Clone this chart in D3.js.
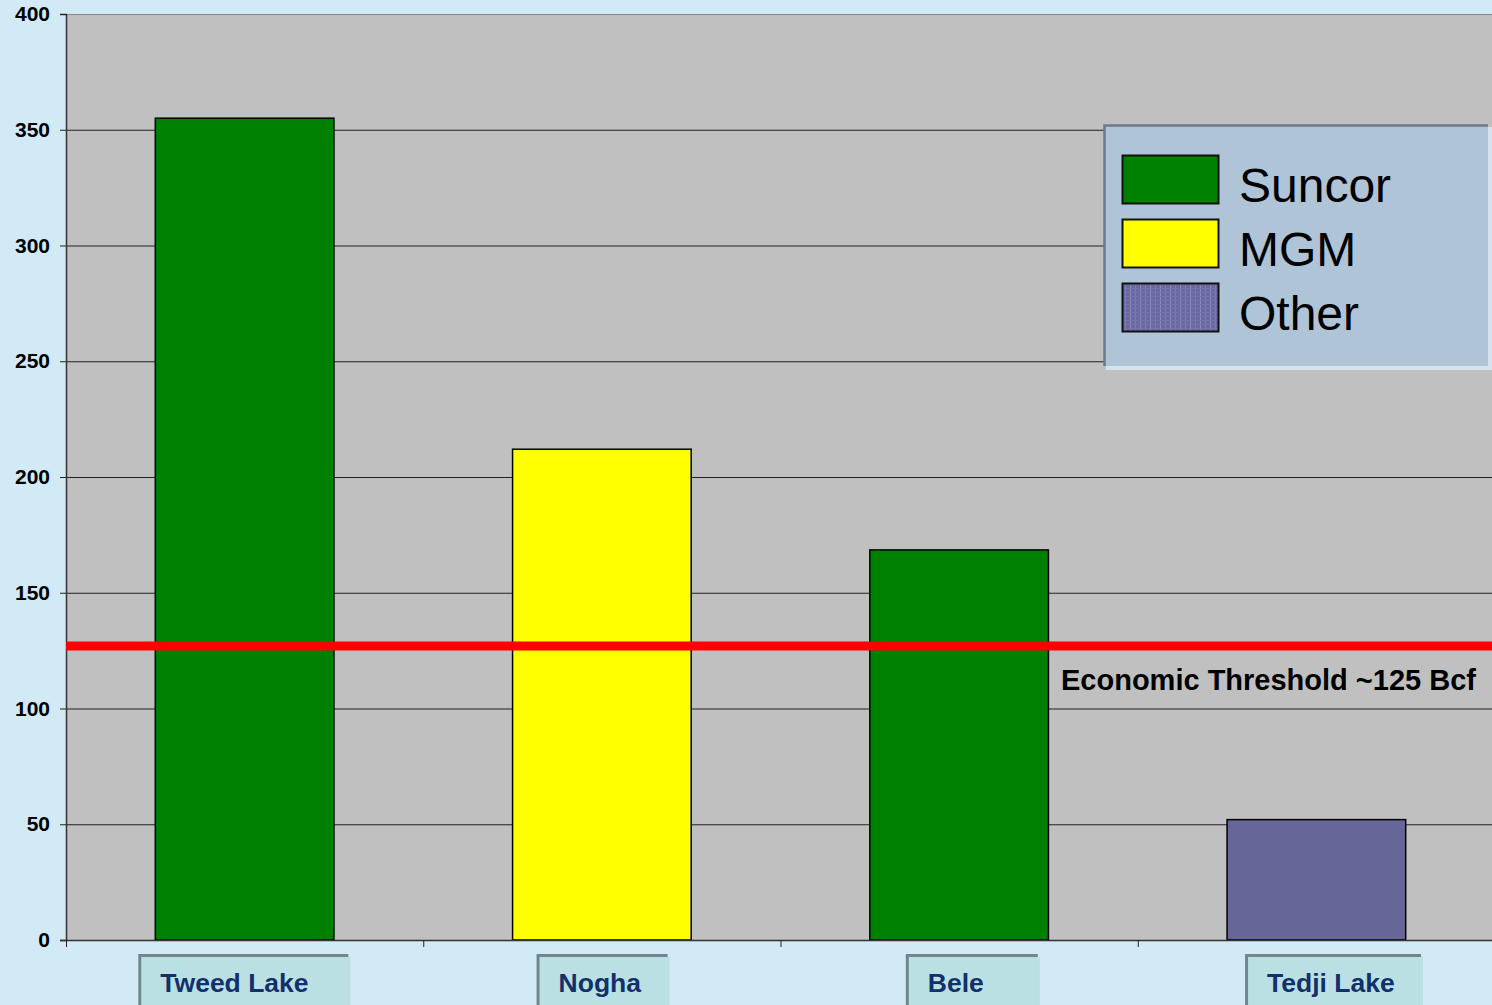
<!DOCTYPE html>
<html>
<head>
<meta charset="utf-8">
<script src="https://cdn.jsdelivr.net/npm/d3@7"></script>
<style>
  html, body { margin: 0; padding: 0; background: #d2eaf5; overflow: hidden; }
  svg { display: block; font-family: Arial, "Liberation Sans", sans-serif; }
</style>
</head>
<body>
<svg id="chart"></svg>
<script>
const width = 1492
const height = 1005

// data
const fields = ['Tweed Lake', 'Nogha', 'Bele', 'Tedji Lake']
const reserves = [355, 212, 168.5, 52]
const owners = ['Suncor', 'MGM', 'Suncor', 'Other']
const legendOwners = ['Suncor', 'MGM', 'Other']
const yTicks = [0, 50, 100, 150, 200, 250, 300, 350, 400]
const threshold = 127
const thresholdLabel = 'Economic Threshold ~125 Bcf'

// category boxes: offset from bar start and width (layout only)
const boxOffset = [-17, 24, 36, 18]
const boxWidth = [212, 133, 134, 178]

const margin = {top: 14, left: 66, bottom: 65}
const plotRight = 1495
const plotBottom = height - margin.bottom

const colors = {
  Suncor: '#008000',
  MGM: '#ffff00',
  Other: '#666699'
}

const svg = d3.select('#chart')
  .attr('width', width)
  .attr('height', height)

const defs = svg.append('defs')
const pat = defs.append('pattern')
  .attr('id', 'otherPat')
  .attr('patternUnits', 'userSpaceOnUse')
  .attr('width', 10)
  .attr('height', 4)
pat.append('rect').attr('width', 10).attr('height', 4).attr('fill', '#6a6aa2')
pat.append('rect').attr('x', 0).attr('width', 1).attr('height', 4).attr('fill', '#8a8ab8')
pat.append('rect').attr('x', 5).attr('width', 1).attr('height', 4).attr('fill', '#7a7aae')
pat.append('rect').attr('y', 0).attr('width', 10).attr('height', 1).attr('fill', '#7474aa')

const x = d3.scaleBand()
  .domain(fields)
  .range([margin.left, plotRight])
  .paddingInner(0.5)
  .paddingOuter(0.25)

const y = d3.scaleLinear()
  .domain([0, 400])
  .range([plotBottom, margin.top])

// plot background
svg.append('rect')
  .attr('x', margin.left)
  .attr('y', margin.top)
  .attr('width', plotRight - margin.left)
  .attr('height', plotBottom - margin.top)
  .attr('fill', '#c0c0c0')

// gridlines
svg.append('g')
  .selectAll('line')
  .data(yTicks.filter(d => d > 0))
  .join('line')
  .attr('x1', margin.left)
  .attr('x2', plotRight)
  .attr('y1', d => y(d) + 0.5)
  .attr('y2', d => y(d) + 0.5)
  .attr('stroke', d => d === 400 ? '#8a8a8a' : '#222')
  .attr('stroke-width', 1)

// y axis
const yAxis = svg.append('g')
  .attr('transform', `translate(${margin.left},0)`)
  .call(d3.axisLeft(y).tickValues(yTicks).tickSize(6).tickPadding(10))
yAxis.select('.domain').attr('stroke', '#333').attr('stroke-width', 1.5)
yAxis.selectAll('.tick line').attr('stroke', '#222')
yAxis.selectAll('.tick text')
  .attr('font-size', 21)
  .attr('font-weight', 'bold')
  .attr('fill', '#000')
  .attr('font-family', 'Arial, "Liberation Sans", sans-serif')

// bars
svg.append('g')
  .selectAll('rect')
  .data(fields)
  .join('rect')
  .attr('x', d => x(d))
  .attr('y', (d, i) => y(reserves[i]))
  .attr('width', x.bandwidth())
  .attr('height', (d, i) => plotBottom - y(reserves[i]))
  .attr('fill', (d, i) => colors[owners[i]])
  .attr('stroke', '#000')
  .attr('stroke-width', 1.5)

// x axis line and ticks
svg.append('line')
  .attr('x1', margin.left - 6)
  .attr('x2', plotRight)
  .attr('y1', plotBottom + 0.5)
  .attr('y2', plotBottom + 0.5)
  .attr('stroke', '#333')
  .attr('stroke-width', 1.5)

const step = x.step()
svg.append('g')
  .selectAll('line')
  .data(d3.range(0, fields.length))
  .join('line')
  .attr('x1', i => margin.left + step * i + 0.5)
  .attr('x2', i => margin.left + step * i + 0.5)
  .attr('y1', plotBottom)
  .attr('y2', plotBottom + 7)
  .attr('stroke', '#222')

// threshold line
svg.append('line')
  .attr('x1', margin.left)
  .attr('x2', width)
  .attr('y1', y(threshold))
  .attr('y2', y(threshold))
  .attr('stroke', '#ff0000')
  .attr('stroke-width', 9)

svg.append('text')
  .attr('x', 1061)
  .attr('y', y(threshold) + 44)
  .attr('font-size', 29)
  .attr('font-weight', 'bold')
  .attr('fill', '#000')
  .text(thresholdLabel)

// category label boxes
const catG = svg.append('g')
fields.forEach((f, i) => {
  const left = x(f) + boxOffset[i]
  const boxW = boxWidth[i]
  const g = catG.append('g')
  g.append('rect')
    .attr('x', left + 3)
    .attr('y', 957)
    .attr('width', boxW - 3)
    .attr('height', 60)
    .attr('fill', '#bae0e3')
  g.append('path')
    .attr('d', `M${left + 1.5},${height + 5} V${955.5} H${left + boxW - 2}`)
    .attr('fill', 'none')
    .attr('stroke', '#6f878c')
    .attr('stroke-width', 3)
  g.append('text')
    .attr('x', left + 22)
    .attr('y', 992)
    .attr('font-size', 26.5)
    .attr('font-weight', 'bold')
    .attr('fill', '#12306b')
    .text(f)
})

// legend
const lg = svg.append('g')
lg.append('rect')
  .attr('x', 1106)
  .attr('y', 127)
  .attr('width', 386)
  .attr('height', 243)
  .attr('fill', '#d6e2ee')
lg.append('rect')
  .attr('x', 1104)
  .attr('y', 125)
  .attr('width', 384)
  .attr('height', 241)
  .attr('fill', '#afc4d6')
lg.append('path')
  .attr('d', 'M1104.5,366 V125.5 H1488')
  .attr('fill', 'none')
  .attr('stroke', '#6d7a8a')
  .attr('stroke-width', 2.5)

const legendY = d3.scalePoint()
  .domain(legendOwners)
  .range([155, 283])

legendOwners.forEach(o => {
  lg.append('rect')
    .attr('x', 1122.5)
    .attr('y', legendY(o) + 0.5)
    .attr('width', 96)
    .attr('height', 48)
    .attr('fill', o === 'Other' ? 'url(#otherPat)' : colors[o])
    .attr('stroke', '#111')
    .attr('stroke-width', 2)
  lg.append('text')
    .attr('x', 1239)
    .attr('y', legendY(o) + 47)
    .attr('font-size', 48)
    .attr('fill', '#000')
    .text(o)
})
</script>
</body>
</html>
